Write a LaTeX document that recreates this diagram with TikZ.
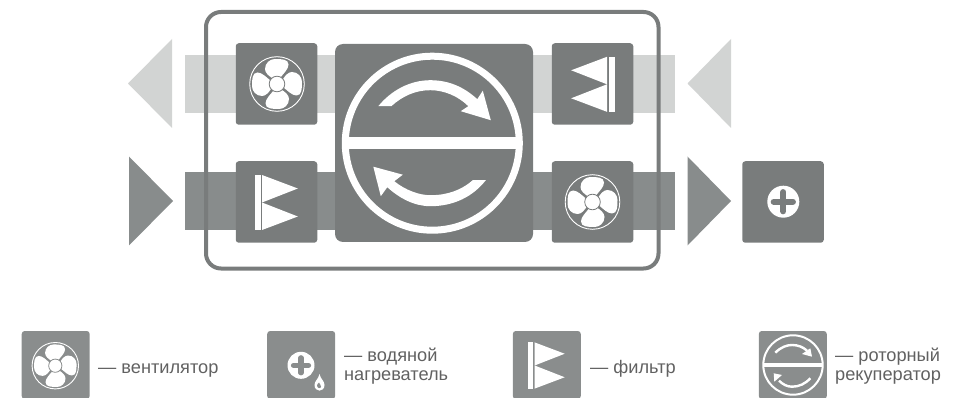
\documentclass[tikz,border=0pt]{standalone}
\usepackage{fontspec}
\setmainfont{Liberation Sans}
\definecolor{boxc}{HTML}{797C7C}
\definecolor{legc}{HTML}{8A8D8D}
\definecolor{lightc}{HTML}{D2D4D3}
\definecolor{darkc}{HTML}{888C8C}
\tikzset{
 tile/.style={fill=#1,rounded corners=3pt,draw=none},
 legtext/.style={anchor=west,align=left,font=\fontsize{18.2}{19}\selectfont,text=black!62,inner sep=0pt},
}
% fan: x, y, scale, hub outline colour
\newcommand{\fanicon}[4]{%
 \begin{scope}[shift={(#1,#2)},scale=#3]
  \draw[white,line width=.9pt] (0,0) circle (27.3);
  \foreach \a in {0,90,180,270}{
   \fill[white,rotate=\a] (-5,-6) .. controls (-8,-8) and (-12,-11) .. (-12,-15) .. controls (-12,-21) and (-7,-25) .. (-2,-25) .. controls (4,-25) and (11.5,-25) .. (11.5,-19.5) .. controls (11.5,-15) and (7,-11) .. (3,-6) -- cycle;
  }
  \draw[#4,fill=white,line width=.8pt] (0,0) circle (7.8);
 \end{scope}}
% filter: centre x, centre y, direction, scale
\newcommand{\filtericon}[4]{%
 \begin{scope}[shift={(#1,#2)},xscale=#3*#4,yscale=#4]
  \fill[white] (-22,-27.5) rectangle (-16,27.5);
  \fill[white] (-14.5,-27.5) -- (21.3,-14) -- (-14.5,0) -- cycle;
  \fill[white] (-14.5,0) -- (21.3,14) -- (-14.5,27.5) -- cycle;
 \end{scope}}
\begin{document}
\begin{tikzpicture}[x=1pt,y=-1pt]
\useasboundingbox (0,0) rectangle (964,398);
% bands and triangles
\node[fill=lightc,draw=none,inner sep=0pt,minimum width=490pt,minimum height=58pt] (bandtop) at (430,84) {};
\node[fill=darkc,draw=none,inner sep=0pt,minimum width=490pt,minimum height=58pt] (bandbot) at (430,201) {};
\fill[lightc] (172,39) -- (128,83.5) -- (172,128) -- cycle;
\fill[lightc] (731,39) -- (687.5,83.5) -- (731,128) -- cycle;
\fill[darkc] (129,156.5) -- (173,201) -- (129,245.5) -- cycle;
\fill[darkc] (687.5,156.5) -- (731,201) -- (687.5,245.5) -- cycle;
% tiles
\node[tile=boxc,minimum size=81.5pt,inner sep=0pt] (fan1) at (276.5,84) {};
\node[tile=boxc,minimum size=81.5pt,inner sep=0pt] (fil1) at (276.5,202) {};
\node[tile=boxc,minimum size=81.5pt,inner sep=0pt] (fil2) at (592.5,84) {};
\node[tile=boxc,minimum size=81.5pt,inner sep=0pt] (fan2) at (592.5,202) {};
\node[tile=boxc,minimum size=81.5pt,inner sep=0pt] (heat) at (783,202) {};
\node[fill=boxc,rounded corners=8pt,minimum size=198pt,inner sep=0pt] (rotor) at (434,143) {};
% frame
\draw[boxc,line width=4pt,rounded corners=15pt] (206,12) rectangle (658.5,268.5);
% icons
\fanicon{277}{84}{1}{boxc}
\fanicon{592.5}{202}{1}{boxc}
\filtericon{276.5}{202.5}{1}{1}
\filtericon{592.5}{84.3}{-1}{1}
\begin{scope}[shift={(432.3,143.2)}]
  \draw[white,line width=7pt] (0,0) circle (87);
  \fill[white] (-88,-6) rectangle (88,6);
  \fill[white] (-54,-37) .. controls (-41,-53) and (-22,-63) .. (-2,-63) .. controls (18,-63) and (33,-55) .. (45,-44) -- (50.5,-52.5) -- (58.5,-23) -- (28.5,-32) -- (36,-37) .. controls (26,-47) and (12,-53) .. (-2,-53) .. controls (-17,-53) and (-30,-47) .. (-41,-37) -- cycle;
  \fill[white] (53.5,37) .. controls (41,53) and (22,63) .. (-2,63) .. controls (-18,63) and (-33,55) .. (-45,44) -- (-51.5,53) -- (-59,23.5) -- (-29.5,31.5) -- (-38,38) .. controls (-27,47) and (-13,52) .. (-2,52) .. controls (15,52) and (29,47) .. (40.5,37) -- cycle;
\end{scope}
\begin{scope}[shift={(783.3,201.7)}]
  \fill[white] (0,0) circle (16);
  \draw[boxc,line width=6.3pt,line cap=round] (-9.5,0) -- (9.5,0) (0,-9.5) -- (0,9.5);
\end{scope}
% legend
\begin{scope}
\clip (0,0) rectangle (964,398);
\node[tile=legc,minimum size=68pt,inner sep=0pt] (l1) at (55.7,365) {};
\node[tile=legc,minimum size=68pt,inner sep=0pt] (l2) at (301.2,365) {};
\node[tile=legc,minimum size=68pt,inner sep=0pt] (l3) at (546.8,365) {};
\node[tile=legc,minimum size=68pt,inner sep=0pt] (l4) at (792.8,365) {};
\end{scope}
\fanicon{55.3}{365.7}{.85}{legc}
\begin{scope}[shift={(301,365.3)}]
  \fill[white] (0,0) circle (13.5);
  \draw[legc,line width=5.2pt,line cap=round] (-7.5,0) -- (7.5,0) (0,-7.5) -- (0,7.5);
\end{scope}
\fill[white] (314.5,385) .. controls (314.5,381) and (318.5,379) .. (319.5,374) .. controls (320.5,379) and (324.5,381) .. (324.5,385) .. controls (324.5,392.5) and (314.5,392.5) .. (314.5,385) -- cycle;
\fill[legc] (317,385.5) .. controls (317,384) and (318,384) .. (319,382.5) .. controls (319.5,384) and (321,385) .. (321,386.5) .. controls (321,389) and (317,388.5) .. (317,385.5) -- cycle;
\filtericon{546.8}{365.5}{1}{.84}
\begin{scope}[shift={(793,365)}]
  \draw[white,line width=2pt] (0,0) circle (29.7);
  \fill[white] (-30,-1.8) rectangle (30,1.8);
  \draw[white,line width=2.4pt] (-17.7,-12.3) .. controls (-12,-18) and (-6,-20) .. (-1,-20) .. controls (5,-20) and (10,-18) .. (14,-14.3);
  \fill[white] (19,-8.3) -- (17.3,-16.7) -- (9,-11) -- cycle;
  \draw[white,line width=2.4pt] (17.3,13.3) .. controls (12,19) and (6,21.7) .. (-1,21.7) .. controls (-6,21.7) and (-10,19.5) .. (-14,15.7);
  \fill[white] (-19.3,8.3) -- (-18.7,16.7) -- (-11,10) -- cycle;
\end{scope}
\node[legtext] (t1) at (98,370) {— вентилятор};
\node[legtext] (t2) at (344,366) {— водяной\\нагреватель};
\node[legtext] (t3) at (590,369) {— фильтр};
\node[legtext] (t4) at (835,366) {— роторный\\рекуператор};
\end{tikzpicture}
\end{document}
